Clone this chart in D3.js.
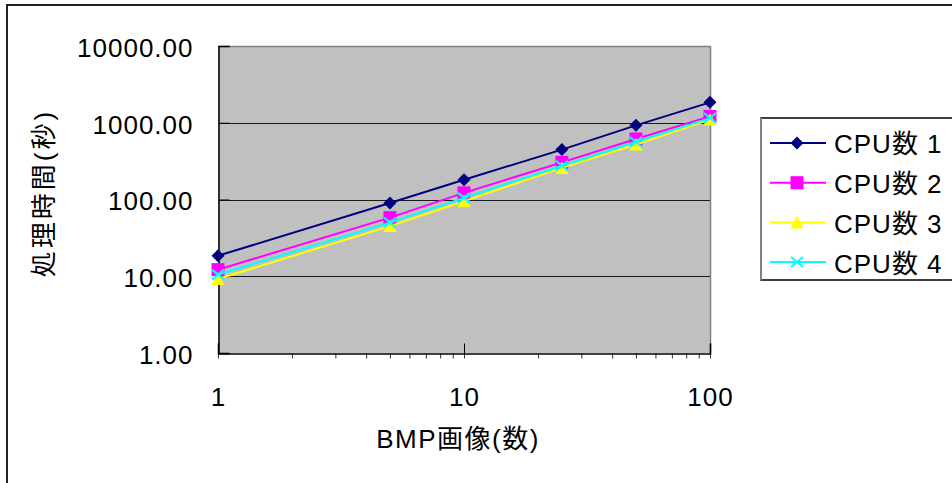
<!DOCTYPE html>
<html><head><meta charset="utf-8">
<script src="https://cdn.jsdelivr.net/npm/d3@7"></script>
<style>
html,body{margin:0;padding:0;background:#fff;}
svg{display:block;}
text{font-family:"Liberation Sans","Noto Sans CJK JP",sans-serif;fill:#000;}
</style></head>
<body>
<script>
// ---- data ----
const images = [1, 5, 10, 25, 50, 100];
const seriesNames = ["CPU数 1", "CPU数 2", "CPU数 3", "CPU数 4"];
const cpu1 = [18.5, 90, 181, 447, 925, 1845];
const cpu2 = [12.2, 58, 122, 305, 615, 1210];
const cpu3 = [9.2, 45, 95, 258, 520, 1100];
const cpu4 = [10.5, 50, 105, 275, 560, 1150];
const yTicks = [1, 10, 100, 1000, 10000];
const xTicks = [1, 10, 100];
const xTitle = "BMP画像(数)";
const yTitle = "処理時間(秒)";

const W = 952, H = 483;
const FS = 26;
const svg = d3.select("body").append("svg").attr("width", W).attr("height", H);

// outer border
svg.append("rect").attr("x", 7).attr("y", 5).attr("width", 1000).attr("height", 600)
  .attr("fill", "#fff").attr("stroke", "#222").attr("stroke-width", 2);

const L = 218, R = 710, T = 46, B = 353;
const x = d3.scaleLog().domain([1, 100]).range([L, R]);
const y = d3.scaleLog().domain([1, 10000]).range([B, T]);

// plot area
svg.append("rect").attr("x", L).attr("y", T).attr("width", R - L).attr("height", B - T)
  .attr("fill", "#c0c0c0");

// gridlines
svg.append("g").selectAll("line").data(yTicks.filter(d => d > 1 && d < 10000)).join("line")
  .attr("x1", L).attr("x2", R)
  .attr("y1", d => Math.round(y(d)) + 0.5).attr("y2", d => Math.round(y(d)) + 0.5)
  .attr("stroke", "#1a1a1a").attr("stroke-width", 1);

// plot border top/right
svg.append("path")
  .attr("d", `M${L},${T + 0.5}H${R + 0.5}V${B}`)
  .attr("fill", "none").attr("stroke", "#808080").attr("stroke-width", 1.5);

const fam = '"Liberation Sans","Noto Sans CJK JP",sans-serif';

// y axis
const yAxis = svg.append("g").attr("transform", `translate(${L + 0.5},0)`)
  .call(d3.axisLeft(y).tickValues(yTicks).tickFormat(d3.format(".2f"))
    .tickSize(-11).tickPadding(25));
yAxis.select(".domain").attr("stroke", "#000").attr("stroke-width", 1.5);
yAxis.selectAll(".tick line").attr("stroke", "#000");
yAxis.selectAll("text").attr("font-size", FS).attr("dy", "0.4em")
  .attr("letter-spacing", 1).attr("font-family", fam);

// x axis minor ticks
const xMinor = svg.append("g").attr("transform", `translate(0,${B + 0.5})`)
  .call(d3.axisBottom(x).tickValues(x.ticks()).tickSize(5).tickFormat(""));
xMinor.select(".domain").remove();
xMinor.selectAll(".tick line").attr("stroke", "#333");

// x axis major
const xAxis = svg.append("g").attr("transform", `translate(0,${B + 0.5})`)
  .call(d3.axisBottom(x).tickValues(xTicks).tickFormat(d3.format("d"))
    .tickSize(-10).tickPadding(0));
xAxis.select(".domain").attr("stroke", "#000").attr("stroke-width", 1.5);
xAxis.selectAll(".tick line").attr("stroke", "#000");
xAxis.selectAll("text").attr("font-size", FS).attr("y", 52).attr("dy", 0)
  .attr("letter-spacing", 1).attr("font-family", fam);

// titles
svg.append("text").attr("x", 458).attr("y", 448).attr("text-anchor", "middle")
  .attr("font-size", FS).attr("letter-spacing", 1.5).text(xTitle);
svg.append("text").attr("transform", "translate(53,193) rotate(-90)")
  .attr("text-anchor", "middle").attr("font-size", FS).attr("letter-spacing", 3).text(yTitle);

// markers
const markers = [
  (g, c) => g.append("path").attr("d", "M0,-6.5L6.5,0L0,6.5L-6.5,0Z").attr("fill", c),
  (g, c) => g.append("rect").attr("x", -6.5).attr("y", -6.5).attr("width", 13).attr("height", 13).attr("fill", c),
  (g, c) => g.append("path").attr("d", "M0,-6.5L6.5,6L-6.5,6Z").attr("fill", c),
  (g, c) => g.append("path").attr("d", "M-6,-5L6,5M-6,5L6,-5").attr("stroke", c).attr("stroke-width", 2).attr("fill", "none")
];
const colors = ["#000080", "#ff00ff", "#ffff00", "#00ffff"];
const allSeries = [cpu1, cpu2, cpu3, cpu4];

const line = d3.line().x((d, i) => x(images[i])).y(d => y(d));
allSeries.forEach((vals, si) => {
  const g = svg.append("g");
  g.append("path").attr("d", line(vals)).attr("fill", "none")
    .attr("stroke", colors[si]).attr("stroke-width", 2);
  vals.forEach((v, i) => {
    const mg = g.append("g").attr("transform", `translate(${x(images[i])},${y(v)})`);
    markers[si](mg, colors[si]);
  });
});

// legend
const lg = svg.append("g");
lg.append("rect").attr("x", 761).attr("y", 118).attr("width", 300).attr("height", 162)
  .attr("fill", "#fff").attr("stroke", "#000").attr("stroke-width", 1.5);
lg.append("line").attr("x1", 761).attr("x2", 761).attr("y1", 118).attr("y2", 280)
  .attr("stroke", "#808080").attr("stroke-width", 2);
seriesNames.forEach((name, si) => {
  const cy = 143 + si * 39.7;
  lg.append("line").attr("x1", 770).attr("x2", 826).attr("y1", cy).attr("y2", cy)
    .attr("stroke", colors[si]).attr("stroke-width", 2);
  const mg = lg.append("g").attr("transform", `translate(797,${cy})`);
  markers[si](mg, colors[si]);
  lg.append("text").attr("x", 834).attr("y", cy).attr("dy", "0.4em")
    .attr("font-size", FS).attr("letter-spacing", 1).text(name);
});
</script>
</body></html>
